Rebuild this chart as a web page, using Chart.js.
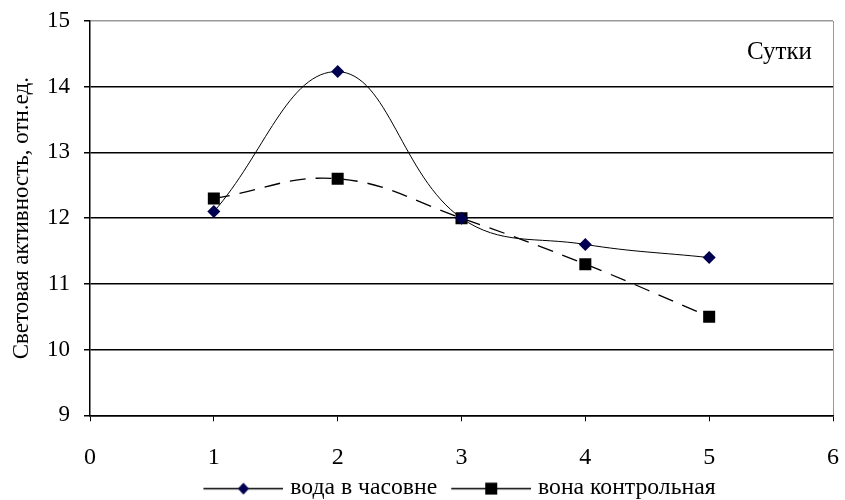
<!DOCTYPE html>
<html>
<head>
<meta charset="utf-8">
<script src="https://cdn.jsdelivr.net/npm/chart.js@4"></script>
<style>
  html, body { margin: 0; padding: 0; background: #fff; }
  #wrap { width: 845px; height: 500px; }
</style>
</head>
<body>
<div id="wrap"><canvas id="chart" width="845" height="500"></canvas></div>
<script>
// ── Data ─────────────────────────────────────────────────────
const days = [1, 2, 3, 4, 5];
const waterChapel = [12.1, 14.23, 12.0, 11.6, 11.4];
const waterControl = [12.3, 12.6, 12.0, 11.3, 10.5];
const seriesNames = ["вода в часовне", "вона контрольная"];
const axisTitle = "Световая активность, отн.ед.";
const cornerNote = "Сутки";

const FONT = "'Liberation Serif', 'Times New Roman', serif";

// legend symbol: line with the marker in the middle; the blank margin on
// the left widens the gap between the two legend items
const SYM_MARGIN = 15;
function legendSymbol(kind) {
  const c = document.createElement("canvas");
  c.width = SYM_MARGIN + 80;
  c.height = 14;
  const g = c.getContext("2d");
  const mid = SYM_MARGIN + 40;
  g.strokeStyle = "#000";
  g.lineWidth = 1.5;
  g.beginPath();
  g.moveTo(SYM_MARGIN, 7.5);
  g.lineTo(c.width, 7.5);
  g.stroke();
  if (kind === "diamond") {
    g.fillStyle = "#000050";
    g.beginPath();
    g.moveTo(mid, 1.5);
    g.lineTo(mid + 5.5, 7.5);
    g.lineTo(mid, 13.5);
    g.lineTo(mid - 5.5, 7.5);
    g.closePath();
    g.fill();
  } else {
    g.fillStyle = "#000";
    g.fillRect(mid - 6, 1.5, 12, 12);
  }
  return c;
}

const xy = (vals) => days.map((d, i) => ({ x: d, y: vals[i] }));

const cornerText = {
  id: "cornerText",
  afterDraw(chart) {
    const { ctx, chartArea } = chart;
    ctx.save();
    ctx.font = "25px " + FONT;
    ctx.fillStyle = "#000";
    ctx.textAlign = "right";
    ctx.textBaseline = "middle";
    ctx.fillText(cornerNote, chartArea.right - 21, chartArea.top + 31);
    ctx.restore();
  },
};

// nudge the legend a little to the left (compensates the symbol margin)
const legendNudge = {
  id: "legendNudge",
  afterLayout(chart) {
    if (!chart.legend) return;
    chart.legend.left -= 7;
    chart.legend.right -= 7;
  },
};

new Chart(document.getElementById("chart"), {
  type: "line",
  data: {
    datasets: [
      {
        label: seriesNames[0],
        data: xy(waterChapel),
        borderColor: "#000",
        borderWidth: 1,
        tension: 0.4,
        pointStyle: "rectRot",
        pointRadius: 6.5,
        pointBackgroundColor: "#000050",
        pointBorderColor: "#000050",
        pointBorderWidth: 0,
        legendSymbol: legendSymbol("diamond"),
      },
      {
        label: seriesNames[1],
        data: xy(waterControl),
        borderColor: "#000",
        borderWidth: 1.3,
        borderDash: [16, 10],
        tension: 0.4,
        pointStyle: "rect",
        pointRadius: 8.5,
        pointBackgroundColor: "#000",
        pointBorderColor: "#000",
        pointBorderWidth: 0,
        legendSymbol: legendSymbol("square"),
      },
    ],
  },
  options: {
    responsive: false,
    animation: false,
    layout: { padding: { left: 2, right: 12, top: 21, bottom: -10 } },
    plugins: {
      tooltip: { enabled: false },
      legend: {
        position: "bottom",
        fullSize: false,
        labels: {
          color: "#000",
          font: { family: FONT, size: 23.7, lineHeight: 1 },
          usePointStyle: true,
          pointStyleWidth: SYM_MARGIN + 70,
          boxHeight: 14,
          padding: 4,
          generateLabels: (chart) =>
            chart.data.datasets.map((ds, i) => ({
              text: ds.label,
              pointStyle: ds.legendSymbol,
              datasetIndex: i,
              fontColor: "#000",
              lineWidth: 0,
              strokeStyle: "transparent",
              fillStyle: "transparent",
            })),
        },
      },
    },
    scales: {
      x: {
        type: "linear",
        min: 0,
        max: 6,
        afterFit: (s) => {
          s.height = 57;
          s.paddingLeft = 0;
          s.paddingRight = 0;
        },
        ticks: {
          stepSize: 1,
          color: "#000",
          font: { family: FONT, size: 24, lineHeight: 1 },
          padding: 24,
        },
        grid: {
          color: (c) => (c.tick && c.tick.value === 6 ? "#999" : "rgba(0,0,0,0)"),
          tickColor: "#000",
          tickLength: 6,
          lineWidth: 1,
        },
        border: { color: "#000", width: 1.5 },
      },
      y: {
        min: 9,
        max: 15,
        afterFit: (s) => {
          s.width = 88;
          s.paddingTop = 0;
          s.paddingBottom = 0;
        },
        ticks: {
          stepSize: 1,
          color: "#000",
          font: { family: FONT, size: 23 },
          padding: 14,
        },
        title: {
          display: true,
          text: axisTitle,
          color: "#000",
          font: { family: FONT, size: 23 },
          padding: { top: 6, bottom: 0 },
        },
        grid: {
          color: (c) => (c.tick && c.tick.value === 15 ? "#999" : "#000"),
          lineWidth: 1.5,
          tickColor: "#000",
          tickLength: 6,
        },
        border: { color: "#000", width: 1.5 },
      },
    },
  },
  plugins: [cornerText, legendNudge],
});
</script>
</body>
</html>
